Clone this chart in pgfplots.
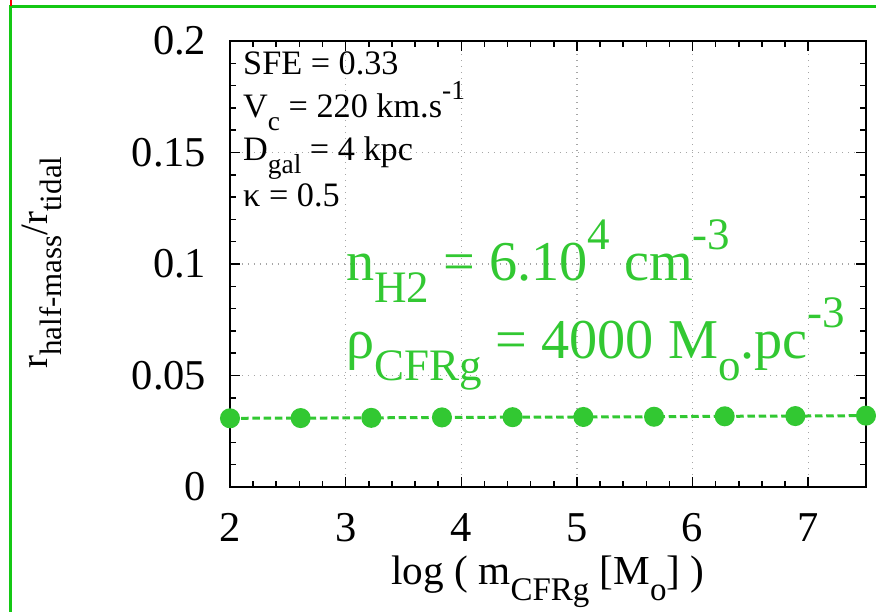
\documentclass[border=0pt]{standalone}
\usepackage{pgfplots}
\pgfplotsset{compat=1.18}
\usepackage{fontspec}
\setmainfont{Liberation Serif}
\definecolor{pgreen}{RGB}{50,200,50}
\definecolor{fgreen}{RGB}{20,200,20}
\newcommand{\sub}[1]{\raisebox{-0.38em}{\scalebox{0.8}{#1}}}
\newcommand{\sups}[1]{\raisebox{0.55em}{\scalebox{0.8}{#1}}}
\begin{document}
\begin{tikzpicture}[x=0.4pt,y=0.4pt]
\useasboundingbox[fill=white] (-230,-125) rectangle (646,487);
\begin{axis}[
  at={(0,0)}, anchor=origin,
  scale only axis, width=254.4pt, height=178.4pt,
  xmin=2, xmax=7.5, ymin=0, ymax=0.2,
  xtick={2,3,4,5,6,7}, ytick={0,0.05,0.1,0.15,0.2},
  xticklabels={2,3,4,5,6,7},
  yticklabels={0,0.05,0.1,0.15,0.2},
  minor x tick num=4, minor y tick num=4,
  tick align=inside, tick style={black, line width=0.6pt},
  major tick length=4pt, minor tick length=2.4pt,
  xmajorgrids, ymajorgrids,
  grid style={gray!70, dotted, line width=0.5pt},
  axis line style={black, line width=0.9pt},
  /pgf/number format/assume math mode=true,
  ticklabel style={font=\rmfamily\fontsize{17}{20}\selectfont},
  xticklabel style={yshift=-7pt},
  yticklabel style={xshift=-6pt},
  xlabel={log ( m\sub{CFRg} [M\sub{o}] )},
  ylabel={r\sub{half-mass}/r\sub{tidal}},
  xlabel style={font=\rmfamily\fontsize{16.5}{19}\selectfont,
    at={(axis description cs:0.50,-0.219)}, anchor=base},
  ylabel style={font=\rmfamily\fontsize{15.5}{18}\selectfont,
    at={(axis description cs:-0.2877,0.503)}, anchor=base},
  clip=false,
]
\addplot[pgreen, line width=1.2pt, dash pattern=on 3pt off 1.5pt,
  mark=*, mark size=3.4pt, mark options={solid, fill=pgreen, draw=pgreen}]
coordinates {
(2.000,0.0308) (2.611,0.0309) (3.222,0.0310) (3.833,0.0312) (4.444,0.0313)
(5.056,0.0314) (5.667,0.0315) (6.278,0.0317) (6.889,0.0318) (7.500,0.0320)
};
\begin{scope}[every node/.style={anchor=base west, inner sep=0pt, font=\fontsize{13.7}{17}\selectfont}]
\node at (axis cs:2.11,0.1848) {SFE = 0.33};
\node at (axis cs:2.11,0.1655) {V\sub{c} = 220 km.s\sups{-1}};
\node at (axis cs:2.11,0.1463) {D\sub{gal} = 4 kpc};
\node at (axis cs:2.11,0.1257) {κ = 0.5};
\end{scope}
\node[anchor=base west, text=pgreen, font=\fontsize{22.5}{26}\selectfont, inner sep=0pt]
  at (axis cs:3.0,0.0925) {n\sub{H2} = 6.10\sups{4} cm\sups{-3}};
\node[anchor=base west, text=pgreen, font=\fontsize{22.5}{26}\selectfont, inner sep=0pt]
  at (axis cs:3.0,0.0575) {ρ\sub{CFRg} = 4000 M\sub{o}.pc\sups{-3}};
\end{axis}
\draw[fgreen, line width=1.2pt] (-219,-125) -- (-219,480) -- (646,480);
\draw[red, line width=1pt] (-219,481) -- (-219,487);
\end{tikzpicture}
\end{document}
